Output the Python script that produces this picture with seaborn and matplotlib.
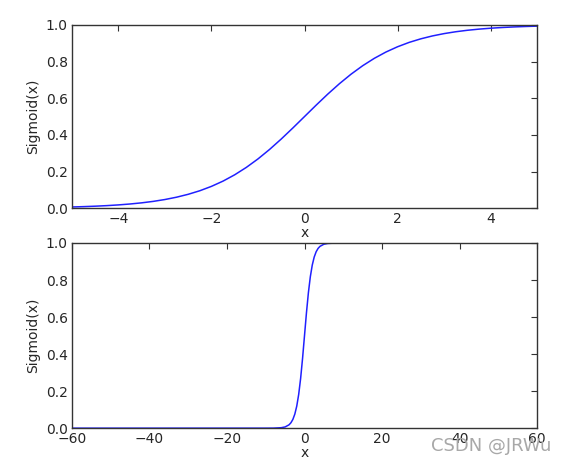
import numpy as np
import pandas as pd
import matplotlib
matplotlib.use('Agg')
import matplotlib.pyplot as plt
import seaborn as sns

# ── Data ─────────────────────────────────────────────────────────────
top_x = [-5.0, -4.75, -4.5, -4.25, -4.0, -3.75, -3.5, -3.25, -3.0, -2.75,
         -2.5, -2.25, -2.0, -1.75, -1.5, -1.25, -1.0, -0.75, -0.5, -0.25,
         0.0, 0.25, 0.5, 0.75, 1.0, 1.25, 1.5, 1.75, 2.0, 2.25,
         2.5, 2.75, 3.0, 3.25, 3.5, 3.75, 4.0, 4.25, 4.5, 4.75, 5.0]
top_y = [0.0067, 0.0086, 0.0110, 0.0141, 0.0180, 0.0230, 0.0293, 0.0373, 0.0474, 0.0601,
         0.0759, 0.0953, 0.1192, 0.1480, 0.1824, 0.2227, 0.2689, 0.3208, 0.3775, 0.4378,
         0.5000, 0.5622, 0.6225, 0.6792, 0.7311, 0.7773, 0.8176, 0.8520, 0.8808, 0.9047,
         0.9241, 0.9399, 0.9526, 0.9627, 0.9707, 0.9770, 0.9820, 0.9859, 0.9890, 0.9914, 0.9933]

bot_x = [-60, -10, -8, -6, -5, -4, -3.5, -3, -2.5, -2, -1.5, -1, -0.5, 0,
         0.5, 1, 1.5, 2, 2.5, 3, 3.5, 4, 5, 6, 8, 10, 60]
bot_y = [0.0, 0.00005, 0.0003, 0.0025, 0.0067, 0.018, 0.0293, 0.0474, 0.0759, 0.1192, 0.1824, 0.2689, 0.3775, 0.5,
         0.6225, 0.7311, 0.8176, 0.8808, 0.9241, 0.9526, 0.9707, 0.982, 0.9933, 0.9975, 0.9997, 1.0, 1.0]

top_xticks = [-4, -2, 0, 2, 4]
bot_xticks = [-60, -40, -20, 0, 20, 40, 60]
yticks = [0.0, 0.2, 0.4, 0.6, 0.8, 1.0]

# ── Style ─────────────────────────────────────────────────────────────
sns.set_style('white')
plt.rcParams['font.family'] = ['DejaVu Sans']
plt.rcParams['font.size'] = 10

fig = plt.figure(figsize=(5.66, 4.70), dpi=100)
ax1 = fig.add_axes([0.127, 0.557, 0.822, 0.390])
ax2 = fig.add_axes([0.127, 0.089, 0.822, 0.394])

panels = [
    (ax1, top_x, top_y, (-5, 5), top_xticks),
    (ax2, bot_x, bot_y, (-60, 60), bot_xticks),
]
for ax, xs, ys, xlim, xt in panels:
    df = pd.DataFrame({'x': xs, 'y': ys})
    sns.lineplot(data=df, x='x', y='y', ax=ax, color='#2020ff',
                 linewidth=1.1, estimator=None, sort=False)
    ax.set_xlim(*xlim)
    ax.set_ylim(0, 1)
    ax.set_xticks(xt)
    ax.set_xticklabels([f'{t:d}'.replace('-', '\u2212') for t in xt])
    ax.set_yticks(yticks)
    ax.set_yticklabels([f'{t:.1f}' for t in yticks])
    ax.tick_params(direction='in', top=True, right=True, length=4,
                   width=0.8, color='#333333', labelsize=10, pad=3)
    ax.set_xlabel('x', fontsize=10, labelpad=0)
    ax.set_ylabel('Sigmoid(x)', fontsize=10, labelpad=4)
    for s in ax.spines.values():
        s.set_color('#333333')
        s.set_linewidth(1.0)

# watermark
fig.text(0.974, 0.051, 'CSDN @JRWu', ha='right', va='center',
         fontsize=13, color='#a8a8a8')

fig.savefig('out.png', dpi=100)
plt.close(fig)
